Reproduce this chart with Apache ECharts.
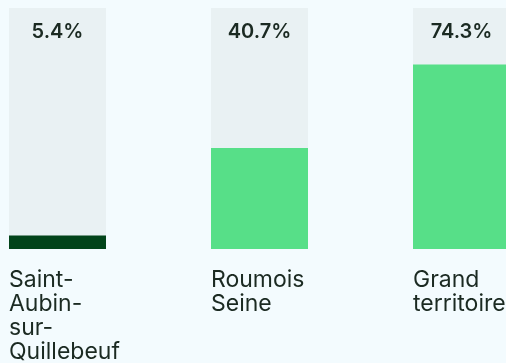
<!DOCTYPE html>
<html>
<head>
<meta charset="utf-8">
<script src="https://cdn.jsdelivr.net/npm/echarts@6/dist/echarts.min.js"></script>
<style>
  html, body { margin: 0; padding: 0; background: #f3fbfe; }
  #chart { width: 506px; height: 363px; }
</style>
</head>
<body>
<div id="chart"></div>
<script>
// Share of each territory (percent)
const categories = ['Saint-\nAubin-\nsur-\nQuillebeuf', 'Roumois\nSeine', 'Grand\nterritoire'];
const values = [5.4, 40.7, 74.3];
const barColors = ['#02441a', '#57df88', '#57df88'];

// Top of the track scale
const scaleMax = 97;

const textColor = '#1b2a22';
const chart = echarts.init(document.getElementById('chart'));

chart.setOption({
  backgroundColor: '#f3fbfe',
  animation: false,
  grid: {
    left: -43.5, top: 8, width: 606, bottom: 114,
    containLabel: false,
    outerBoundsMode: 'none'
  },
  xAxis: {
    type: 'category',
    data: categories,
    axisLine: { show: false },
    axisTick: { show: false },
    axisLabel: {
      align: 'left',
      verticalAlign: 'top',
      margin: 19,
      padding: [0, 0, 0, -48.5],
      fontFamily: 'Inter',
      fontSize: 23,
      lineHeight: 24,
      color: textColor
    }
  },
  yAxis: {
    type: 'value',
    min: 0,
    max: scaleMax,
    show: false,
    splitLine: { show: false }
  },
  series: [
    {
      // full-height track carrying the value label
      name: 'track',
      type: 'bar',
      barWidth: 97,
      barGap: '-100%',
      silent: true,
      data: values.map(() => scaleMax),
      itemStyle: { color: '#e9f1f3' },
      label: {
        show: true,
        position: 'insideTop',
        distance: 14,
        formatter: (p) => values[p.dataIndex].toFixed(1) + '%',
        fontFamily: 'Inter',
        fontWeight: 600,
        fontSize: 20,
        color: textColor
      },
      z: 1
    },
    {
      name: 'share',
      type: 'bar',
      barWidth: 97,
      barGap: '-100%',
      data: values.map((v, i) => ({ value: v, itemStyle: { color: barColors[i] } })),
      z: 2
    }
  ]
});
</script>
</body>
</html>
